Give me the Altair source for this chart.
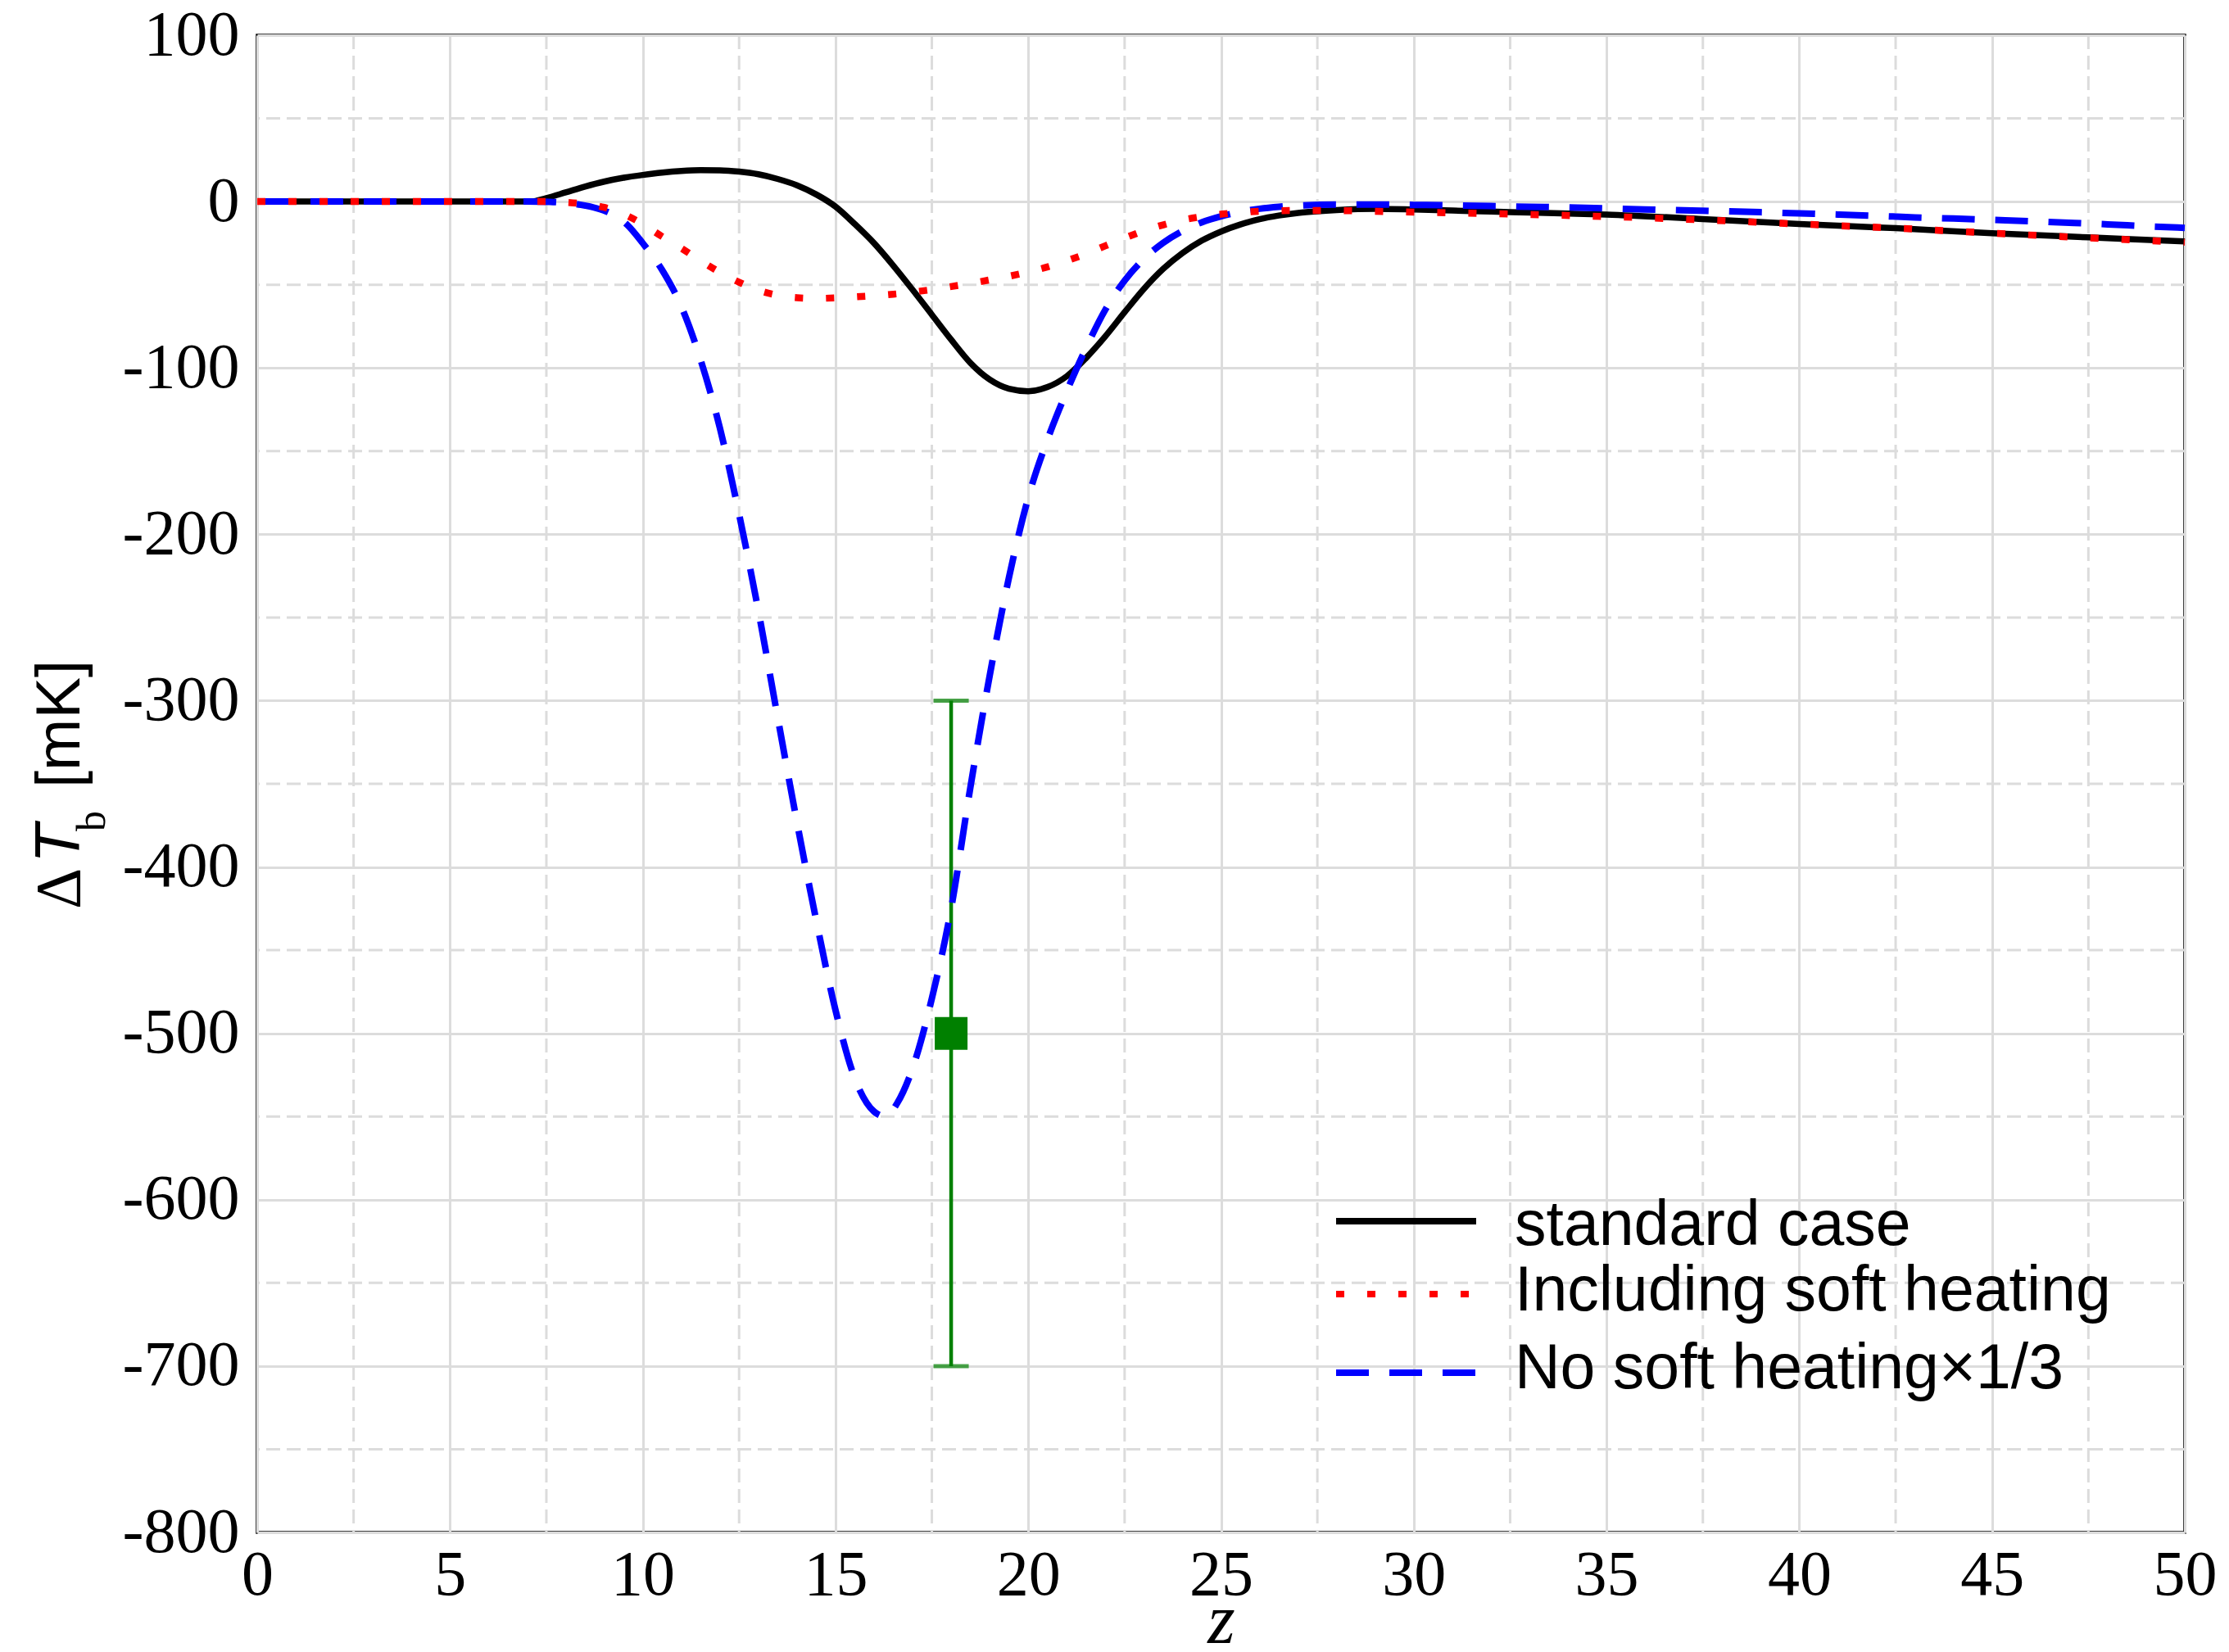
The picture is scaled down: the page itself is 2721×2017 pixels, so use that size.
import altair as alt
import pandas as pd

# ---------------- data ----------------
z_std = [0, 2, 4, 6, 7.1, 7.5, 8, 8.5, 9, 9.5, 10, 10.5, 11, 11.5, 12, 12.5, 13, 13.5, 14, 14.5,
         15, 15.5, 16, 16.5, 17, 17.5, 18, 18.5, 19, 19.5, 20, 20.5, 21, 21.5, 22, 22.5, 23, 23.5,
         24, 24.5, 25, 25.5, 26, 26.5, 27, 27.5, 28, 29, 30, 31, 32, 33, 35, 37.5, 40, 42.5, 45, 47.5, 50]
t_std = [0, 0, 0, 0, 0, 2.1, 5.5, 9.0, 12.0, 14.3, 16, 17.4, 18.4, 18.9, 18.8, 18, 16.4, 13.6, 9.8, 4.3,
         -3, -13.5, -25, -38.5, -53, -68, -83, -97, -107, -112.5, -114, -111.5, -105, -94, -81, -66.5,
         -52.5, -40.5, -31, -23.5, -18, -13.8, -10.6, -8.4, -6.8, -5.8, -5.1, -4.4, -4.8, -5.4, -6, -6.6,
         -7.8, -10.5, -13.5, -16, -19, -21.5, -24]

z_soft = [0, 2, 4, 6, 7.5, 8, 8.5, 9, 9.5, 10, 10.5, 11, 11.5, 12, 12.5, 13, 13.5, 14, 14.5, 15, 15.5,
          16, 16.5, 17, 17.5, 18, 18.5, 19, 19.5, 20, 20.5, 21, 21.5, 22, 22.5, 23, 23.5, 24, 24.5, 25,
          25.5, 26, 27, 28, 29, 30, 32.5, 35, 37.5, 40, 42.5, 45, 47.5, 50]
t_soft = [0, 0, 0, 0, 0, -0.5, -1.5, -3.5, -7.5, -13.5, -21, -28, -35.5, -42.5, -48.5, -53.3, -56.3, -57.8,
          -58.2, -57.9, -57.3, -56.6, -55.7, -54.4, -52.9, -51.1, -49.2, -47.1, -44.9, -42.3, -39.3, -35.6,
          -31.4, -26.6, -21.9, -17.6, -14, -11.1, -9.1, -7.6, -6.5, -5.8, -5.4, -5.4, -5.9, -6.3, -7.5,
          -9, -11, -13.5, -16, -19, -21.8, -24.5]

z_nosoft = [0, 2, 4, 6, 7.0, 7.6, 8, 8.4, 8.8, 9.2, 9.6, 10, 10.5, 11, 11.5, 12, 12.5, 13, 13.5, 14, 14.5,
            15, 15.5, 16, 16.3, 16.6, 17, 17.5, 18, 18.5, 19, 19.5, 20, 20.5, 21, 21.5, 22, 22.5, 23,
            23.5, 24, 24.5, 25, 25.5, 26, 26.5, 27, 28, 29, 30, 31, 32, 33, 34, 35, 36, 37, 38, 39, 40,
            41, 42, 43, 44, 45, 46, 47, 48, 49, 50]
t_nosoft = [0, 0, 0, 0, 0, -0.2, -0.8, -2, -4, -7.5, -14, -25, -41, -63, -95, -136, -188, -246, -310,
            -373, -432, -486, -527, -547, -550, -542, -521, -479, -425, -352, -285, -226, -178, -143,
            -114, -88, -65, -47.5, -34.5, -24.8, -17.7, -12.5, -8.9, -6.2, -4.3, -3.1, -2.4, -1.8, -1.8,
            -2, -2.3, -2.7, -3.1, -3.5, -4.1, -4.7, -5.2, -5.8, -6.4, -7.1, -7.8, -8.6, -9.5, -10.2, -11,
            -11.8, -12.7, -13.7, -14.8, -15.8]

err_z = [18]
err_t = [-500]
err_lo = [-700]
err_hi = [-300]

x_ticks = [0, 5, 10, 15, 20, 25, 30, 35, 40, 45, 50]
y_ticks = [100, 0, -100, -200, -300, -400, -500, -600, -700, -800]
minor_x = [2.5, 7.5, 12.5, 17.5, 22.5, 27.5, 32.5, 37.5, 42.5, 47.5]
minor_y = [50, -50, -150, -250, -350, -450, -550, -650, -750]

legend_labels = ["standard case", "Including soft heating", "No soft heating\u00d71/3"]

# ---------------- styling helpers ----------------
GRID = "#dcdcdc"
SERIF = "Liberation Serif"
SANS = "Liberation Sans"

x_scale = alt.Scale(domain=[0, 50], nice=False, zero=False)
y_scale = alt.Scale(domain=[-800, 100], nice=False, zero=False)

x_axis = alt.Axis(values=x_ticks, grid=True, gridColor=GRID, gridWidth=3, domain=False,
                  ticks=False, tickSize=0, labelFont=SERIF, labelFontSize=78, labelColor="black",
                  labelPadding=13, labelAngle=0, labelFlush=False, labelOverlap=False,
                  title="z", titleFont=SERIF, titleFontStyle="italic", titleFontSize=86,
                  titleFontWeight="normal", titleColor="black", titleBaseline="alphabetic",
                  titleY=134)
y_axis = alt.Axis(values=y_ticks, grid=True, gridColor=GRID, gridWidth=3, domain=False,
                  ticks=False, tickSize=0, labelFont=SERIF, labelFontSize=78, labelColor="black",
                  labelPadding=22, labelFlush=False, labelOverlap=False,
                  labelExpr="datum.value < 0 ? '-' + abs(datum.value) : '' + datum.value",
                  title=None)


def X(field):
    return alt.X(field, type="quantitative", scale=x_scale, axis=x_axis)


def Y(field):
    return alt.Y(field, type="quantitative", scale=y_scale, axis=y_axis)


one = pd.DataFrame({"k": [0]})

# ---------------- layers ----------------
grid_x = alt.Chart(pd.DataFrame({"z": minor_x})).mark_rule(
    color=GRID, strokeWidth=3, strokeDash=[17, 8]).encode(x=X("z"))
grid_y = alt.Chart(pd.DataFrame({"t": minor_y})).mark_rule(
    color=GRID, strokeWidth=3, strokeDash=[17, 8]).encode(y=Y("t"))

err_df = pd.DataFrame({"z": err_z, "t": err_t, "lo": err_lo, "hi": err_hi})
err_bar = alt.Chart(err_df).mark_rule(color="#008000", strokeWidth=4.5).encode(
    x=X("z"), y=Y("lo"), y2="hi")
cap_hi = alt.Chart(err_df).mark_tick(color="#008000", thickness=5, size=43,
                                     orient="horizontal").encode(x=X("z"), y=Y("hi"))
cap_lo = alt.Chart(err_df).mark_tick(color="#008000", thickness=5, size=43,
                                     orient="horizontal").encode(x=X("z"), y=Y("lo"))
err_pt = alt.Chart(err_df).mark_square(color="#008000", size=1600, opacity=1,
                                       filled=True).encode(x=X("z"), y=Y("t"))

std_line = alt.Chart(pd.DataFrame({"z": z_std, "t": t_std})).mark_line(
    color="black", strokeWidth=7.5, interpolate="monotone").encode(x=X("z"), y=Y("t"))
nosoft_line = alt.Chart(pd.DataFrame({"z": z_nosoft, "t": t_nosoft})).mark_line(
    color="#0000ff", strokeWidth=8, strokeDash=[40, 25], strokeCap="butt",
    interpolate="monotone").encode(x=X("z"), y=Y("t"))
soft_line = alt.Chart(pd.DataFrame({"z": z_soft, "t": t_soft})).mark_line(
    color="#ff0000", strokeWidth=8.5, strokeDash=[10, 28], strokeCap="butt",
    interpolate="monotone").encode(x=X("z"), y=Y("t"))

# ---------------- legend (drawn manually) ----------------
leg_styles = [
    dict(color="black", strokeDash=[1, 0]),
    dict(color="#ff0000", strokeDash=[10, 28]),
    dict(color="#0000ff", strokeDash=[40, 25]),
]
leg_rows_y = [1448, 1537, 1633]
leg_text_y = [1477, 1557, 1652]
legend_layers = []
for lab, st, ry, ty in zip(legend_labels, leg_styles, leg_rows_y, leg_text_y):
    legend_layers.append(
        alt.Chart(one).mark_rule(color=st["color"], strokeWidth=8, strokeDash=st["strokeDash"],
                                 strokeCap="butt").encode(
            x=alt.value(1317), x2=alt.value(1488), y=alt.value(ry)))
    legend_layers.append(
        alt.Chart(pd.DataFrame({"label": [lab]})).mark_text(
            font=SANS, fontSize=77, color="black", align="left", baseline="alphabetic").encode(
            text="label:N", x=alt.value(1535), y=alt.value(ty)))

# ---------------- y-axis title (Delta T_b [mK]) ----------------
ytitle = [
    alt.Chart(one).mark_text(text="\u0394", font=SERIF, fontSize=78, color="black", angle=270,
                             align="left", baseline="alphabetic").encode(
        x=alt.value(-217), y=alt.value(1067)),
    alt.Chart(one).mark_text(text="T", font=SANS, fontStyle="italic", fontSize=78, color="black",
                             angle=270, align="left", baseline="alphabetic").encode(
        x=alt.value(-217), y=alt.value(1011)),
    alt.Chart(one).mark_text(text="b", font=SERIF, fontSize=50, color="black", angle=270,
                             align="left", baseline="alphabetic").encode(
        x=alt.value(-186), y=alt.value(972)),
    alt.Chart(one).mark_text(text="[mK]", font=SANS, fontSize=76, color="black", angle=270,
                             align="left", baseline="alphabetic").encode(
        x=alt.value(-217), y=alt.value(919)),
]

chart = alt.layer(
    grid_x, grid_y, err_bar, cap_hi, cap_lo, err_pt, std_line, nosoft_line, soft_line,
    *legend_layers, *ytitle
).properties(
    width=2353, height=1828,
    padding={"left": 314, "top": 43, "right": 54, "bottom": 146},
    autosize=alt.AutoSizeParams(type="none"),
    background="white",
).configure_view(stroke="black", strokeWidth=3.5)

chart.save("out.html", embed_options={"renderer": "svg", "actions": False})
